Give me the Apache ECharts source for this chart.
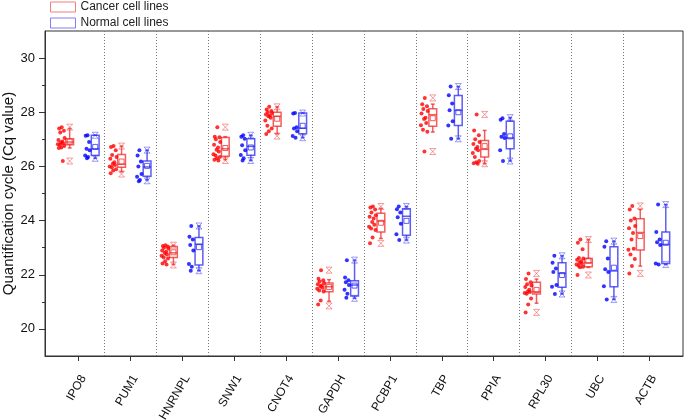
<!DOCTYPE html>
<html>
<head>
<meta charset="utf-8">
<script src="https://cdn.jsdelivr.net/npm/echarts@6.0.0/dist/echarts.min.js"></script>
<style>
  html, body { margin: 0; padding: 0; background: #fff; }
  #chart { width: 685px; height: 420px; }
</style>
</head>
<body>
<div id="chart"></div>
<script>
// genes on the x axis
var genes = ['IPO8', 'PUM1', 'HNRNPL', 'SNW1', 'CNOT4', 'GAPDH', 'PCBP1', 'TBP', 'PPIA', 'RPL30', 'UBC', 'ACTB'];
var yMajor = [20, 22, 24, 26, 28, 30];
var yMinor = [21, 23, 25, 27, 29];

// Cq values of each cell line
var cancerCq = [
  [27.45, 27.4, 27.32, 27.25, 27.05, 26.98, 26.92, 26.88, 26.85, 26.82, 26.8, 26.75, 26.7, 26.68, 26.2],
  [26.75, 26.72, 26.6, 26.42, 26.35, 26.28, 26.15, 26.1, 26.05, 26.0, 25.97, 25.9, 25.85, 25.75],
  [23.09, 23.06, 23.04, 23.0, 22.97, 22.9, 22.85, 22.8, 22.75, 22.7, 22.65, 22.6, 22.5, 22.42, 22.38],
  [27.45, 27.1, 27.08, 27.0, 26.9, 26.8, 26.7, 26.62, 26.55, 26.45, 26.4, 26.35, 26.3, 26.25, 26.22],
  [28.2, 28.1, 28.05, 28.0, 27.97, 27.92, 27.88, 27.85, 27.8, 27.7, 27.5, 27.4, 27.3, 27.2],
  [22.17, 21.85, 21.8, 21.75, 21.7, 21.65, 21.6, 21.57, 21.52, 21.48, 21.42, 21.38, 21.05, 20.9],
  [24.52, 24.48, 24.41, 24.3, 24.2, 24.14, 24.08, 23.95, 23.85, 23.77, 23.71, 23.65, 23.38, 23.16],
  [28.53, 28.3, 28.22, 28.12, 28.05, 27.95, 27.8, 27.75, 27.6, 27.52, 27.35, 27.28, 26.55],
  [27.92, 27.33, 27.15, 27.0, 26.9, 26.83, 26.72, 26.65, 26.6, 26.5, 26.35, 26.2, 26.15, 26.12, 26.1],
  [22.05, 21.84, 21.72, 21.65, 21.6, 21.55, 21.45, 21.38, 21.36, 21.33, 21.3, 21.12, 20.9, 20.61],
  [23.3, 23.18, 22.94, 22.62, 22.6, 22.55, 22.5, 22.45, 22.42, 22.38, 22.33, 22.3, 22.28, 21.99],
  [24.54, 24.41, 24.08, 24.0, 23.8, 23.72, 23.54, 23.3, 22.96, 22.92, 22.75, 22.58, 22.32, 22.05]
];
var normalCq = [
  [27.15, 27.13, 26.9, 26.65, 26.6, 26.4, 26.35, 26.3],
  [26.6, 26.4, 26.18, 26.0, 25.72, 25.62, 25.5, 25.45],
  [23.8, 23.4, 23.3, 23.1, 22.9, 22.4, 22.3, 22.15],
  [27.15, 27.1, 27.02, 26.78, 26.6, 26.42, 26.3, 26.22],
  [27.97, 27.95, 27.45, 27.4, 27.3, 27.12, 27.06],
  [22.54, 21.9, 21.8, 21.72, 21.62, 21.45, 21.3, 21.15],
  [24.52, 24.42, 24.3, 24.12, 23.88, 23.5, 23.28],
  [28.95, 28.63, 28.32, 28.07, 27.67, 27.51, 27.02],
  [27.78, 27.72, 27.2, 27.1, 27.05, 26.6, 26.2],
  [22.7, 22.44, 22.23, 22.1, 21.62, 21.56, 21.29],
  [23.24, 23.03, 22.6, 22.2, 22.1, 21.58, 21.09],
  [24.59, 23.58, 23.3, 23.2, 23.1, 22.42, 22.38]
];

// box stats: [whisker low, Q1, median, Q3, whisker high, mean, min, max]
var cancerBox = [
  [26.68, 26.8, 26.9, 27.02, 27.4, 26.92, 26.2, 27.45],
  [25.8, 25.97, 26.08, 26.44, 26.75, 26.18, 25.72, 26.75],
  [22.38, 22.64, 22.81, 23.04, 23.09, 22.83, 22.36, 23.09],
  [26.25, 26.38, 26.65, 27.07, 27.1, 26.68, 26.22, 27.45],
  [27.2, 27.48, 27.85, 28.0, 28.2, 27.76, 27.12, 28.2],
  [21.02, 21.37, 21.56, 21.7, 21.82, 21.55, 20.85, 22.17],
  [23.34, 23.58, 23.98, 24.27, 24.45, 23.92, 23.16, 24.52],
  [27.27, 27.48, 27.91, 28.13, 28.3, 27.78, 26.55, 28.53],
  [26.1, 26.35, 26.63, 26.96, 27.33, 26.75, 26.1, 27.92],
  [20.95, 21.29, 21.37, 21.72, 21.84, 21.44, 20.61, 22.05],
  [22.27, 22.3, 22.44, 22.6, 23.3, 22.52, 21.99, 23.3],
  [22.32, 22.91, 23.56, 24.07, 24.41, 23.43, 22.05, 24.54]
];
var normalBox = [
  [26.3, 26.4, 26.65, 27.15, 27.15, 26.72, 26.3, 27.15],
  [25.5, 25.64, 25.98, 26.2, 26.6, 26.02, 25.47, 26.6],
  [22.15, 22.36, 23.13, 23.38, 23.8, 23.02, 22.15, 23.8],
  [26.22, 26.41, 26.74, 27.02, 27.15, 26.7, 26.22, 27.15],
  [27.06, 27.21, 27.41, 27.97, 27.97, 27.5, 27.06, 27.97],
  [21.13, 21.22, 21.62, 21.78, 22.54, 21.6, 21.13, 22.54],
  [23.28, 23.46, 24.16, 24.44, 24.52, 23.99, 23.28, 24.52],
  [27.02, 27.51, 28.07, 28.62, 28.95, 28.0, 27.02, 28.95],
  [26.2, 26.65, 27.05, 27.67, 27.8, 27.11, 26.2, 27.8],
  [21.29, 21.54, 22.05, 22.44, 22.7, 21.99, 21.29, 22.7],
  [21.09, 21.56, 22.14, 23.03, 23.24, 22.26, 21.09, 23.24],
  [22.38, 22.42, 23.12, 23.58, 24.59, 23.18, 22.38, 24.59]
];

// layout of one gene slot (in category units)
var jitter = [0.55, 0.2, 0.85, 0.35, 0.95, 0.1, 0.65, 0.45, 0.75, 0.02, 0.3, 0.9, 0.5, 0.15, 0.7];
var labelShift = 0.09;
var RED = '#ff0000', BLUE = '#0000ff';
var RED_BOX = 'rgba(240,40,40,0.75)', BLUE_BOX = 'rgba(40,40,240,0.75)';
var RED_X = 'rgba(240,60,60,0.5)', BLUE_X = 'rgba(60,60,240,0.5)';
var FONT = 'Liberation Sans, Arial, sans-serif';

function pointData(groups, center, spread) {
  var out = [];
  groups.forEach(function (vals, i) {
    vals.forEach(function (v, j) {
      out.push([i + 1 + center + (jitter[j % jitter.length] - 0.5) * spread, v]);
    });
  });
  return out;
}

function boxData(stats) {
  return stats.map(function (s, i) { return [i + 1].concat(s); });
}

function boxRenderer(offset, stroke, light) {
  return function (params, api) {
    var x = api.value(0) + offset;
    var half = api.size([0.075, 0])[0];
    var cap = half * 0.5;
    var p = function (v) { return api.coord([x, v]); };
    var wl = p(api.value(1)), q1 = p(api.value(2)), md = p(api.value(3));
    var q3 = p(api.value(4)), wh = p(api.value(5)), mn = p(api.value(6));
    var lo = p(api.value(7)), hi = p(api.value(8));
    var cx = wl[0];
    var st = { stroke: stroke, fill: 'none', lineWidth: 1.5 };
    var kids = [
      { type: 'line', shape: { x1: cx, y1: q1[1], x2: cx, y2: wl[1] }, style: st },
      { type: 'line', shape: { x1: cx, y1: q3[1], x2: cx, y2: wh[1] }, style: st },
      { type: 'line', shape: { x1: cx - cap, y1: wl[1], x2: cx + cap, y2: wl[1] }, style: st },
      { type: 'line', shape: { x1: cx - cap, y1: wh[1], x2: cx + cap, y2: wh[1] }, style: st },
      { type: 'rect', shape: { x: cx - half, y: q3[1], width: half * 2, height: q1[1] - q3[1] }, style: st },
      { type: 'line', shape: { x1: cx - half, y1: md[1], x2: cx + half, y2: md[1] }, style: st },
      { type: 'rect', shape: { x: cx - 2.5, y: mn[1] - 2.5, width: 5, height: 5 }, style: { stroke: stroke, fill: 'none', lineWidth: 1 } }
    ];
    [lo[1], hi[1]].forEach(function (y) {
      var s = { stroke: light, lineWidth: 1 };
      kids.push({ type: 'line', shape: { x1: cx - 3, y1: y - 3, x2: cx + 3, y2: y + 3 }, style: s });
      kids.push({ type: 'line', shape: { x1: cx - 3, y1: y + 3, x2: cx + 3, y2: y - 3 }, style: s });
      kids.push({ type: 'line', shape: { x1: cx - 3, y1: y - 3, x2: cx + 3, y2: y - 3 }, style: s });
      kids.push({ type: 'line', shape: { x1: cx - 3, y1: y + 3, x2: cx + 3, y2: y + 3 }, style: s });
    });
    return { type: 'group', children: kids };
  };
}

var separators = genes.slice(1).map(function (g, i) { return { xAxis: i + 1.5 }; });
var slots = genes.map(function (g, i) { return i + 1; });
var labelSlots = slots.map(function (s) { return s + labelShift; });

var chart = echarts.init(document.getElementById('chart'));
chart.setOption({
  animation: false,
  textStyle: { fontFamily: FONT },
  legend: {
    orient: 'vertical',
    left: 50,
    top: 1,
    padding: 0,
    itemWidth: 25,
    itemHeight: 10,
    itemGap: 4,
    textStyle: { fontSize: 12, color: '#222', fontFamily: FONT },
    data: [
      { name: 'Cancer cell lines', icon: 'rect', itemStyle: { color: 'rgba(0,0,0,0)', borderColor: '#f06060', borderWidth: 1 } },
      { name: 'Normal cell lines', icon: 'rect', itemStyle: { color: 'rgba(0,0,0,0)', borderColor: '#6060f0', borderWidth: 1 } }
    ]
  },
  grid: { left: 45, right: 2, top: 31, bottom: 64, outerBoundsMode: 'none', show: true, borderColor: '#333', borderWidth: 1 },
  xAxis: [{
    type: 'value',
    min: 0.35,
    max: 12.65,
    splitLine: { show: false },
    axisLine: { lineStyle: { color: '#333' } },
    axisTick: { customValues: slots, length: 5, lineStyle: { color: '#333' } },
    axisLabel: { show: false }
  }, {
    // labels only, set a little right of each tick like the original
    type: 'value',
    position: 'bottom',
    min: 0.35,
    max: 12.65,
    splitLine: { show: false },
    axisLine: { show: false },
    axisTick: { show: false },
    axisLabel: {
      customValues: labelSlots,
      rotate: 60,
      margin: 20,
      fontSize: 12,
      color: '#111',
      fontFamily: FONT,
      formatter: function (v) { return genes[Math.round(v - labelShift) - 1]; }
    }
  }],
  yAxis: [{
    type: 'value',
    min: 19,
    max: 31,
    name: 'Quantification cycle (Cq value)',
    nameLocation: 'middle',
    nameGap: 29,
    nameMoveOverlap: false,
    nameTextStyle: { fontSize: 15, color: '#111', fontFamily: FONT },
    splitLine: { show: false },
    axisLine: { show: true, lineStyle: { color: '#333' } },
    axisTick: { customValues: yMajor, length: 6, lineStyle: { color: '#333' } },
    axisLabel: { customValues: yMajor, fontSize: 13, color: '#111', margin: 10, fontFamily: FONT }
  }, {
    type: 'value',
    position: 'left',
    min: 19,
    max: 31,
    splitLine: { show: false },
    axisLine: { show: false },
    axisTick: { customValues: yMinor, length: 3, lineStyle: { color: '#333' } },
    axisLabel: { show: false }
  }],
  series: [
    {
      name: 'Cancer cell lines',
      type: 'scatter',
      symbolSize: 4,
      itemStyle: { color: RED },
      data: pointData(cancerCq, -0.335, 0.14),
      markLine: {
        silent: true,
        symbol: 'none',
        label: { show: false },
        lineStyle: { color: '#777', type: [1, 2], width: 1 },
        data: separators
      },
      z: 3
    },
    {
      name: 'Normal cell lines',
      type: 'scatter',
      symbolSize: 4,
      itemStyle: { color: BLUE },
      data: pointData(normalCq, 0.165, 0.1),
      z: 3
    },
    {
      name: 'Cancer cell lines',
      type: 'custom',
      itemStyle: { color: RED_BOX },
      renderItem: boxRenderer(-0.174, RED_BOX, RED_X),
      data: boxData(cancerBox),
      z: 2
    },
    {
      name: 'Normal cell lines',
      type: 'custom',
      itemStyle: { color: BLUE_BOX },
      renderItem: boxRenderer(0.318, BLUE_BOX, BLUE_X),
      data: boxData(normalBox),
      z: 2
    }
  ]
});
</script>
</body>
</html>
